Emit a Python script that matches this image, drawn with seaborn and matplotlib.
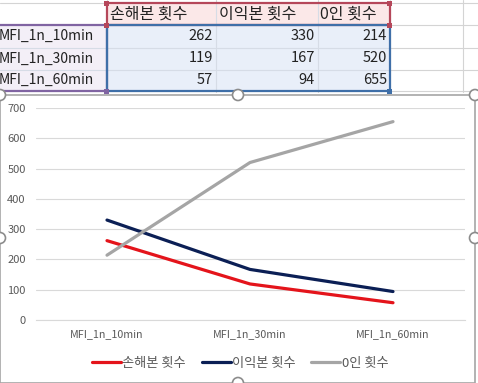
import matplotlib
matplotlib.use("Agg")
import matplotlib.pyplot as plt
import seaborn as sns
import pandas as pd
from matplotlib.patches import Rectangle, Circle
from matplotlib.lines import Line2D

categories = ["MFI_1n_10min", "MFI_1n_30min", "MFI_1n_60min"]
series_names = ["손해본 횟수", "이익본 횟수", "0인 횟수"]
loss_counts = [262, 119, 57]
profit_counts = [330, 167, 94]
zero_counts = [214, 520, 655]
yticks = [0, 100, 200, 300, 400, 500, 600, 700]

colors = ["#E4141B", "#0B1F55", "#A5A5A5"]

sns.set_theme(style="white")
plt.rcParams['font.family'] = ['Noto Sans CJK KR', 'DejaVu Sans']

W, H = 478, 383
fig = plt.figure(figsize=(W / 100, H / 100), dpi=100)

# Background overlay axes in pixel coordinates
bg = fig.add_axes([0, 0, 1, 1])
bg.set_xlim(0, W)
bg.set_ylim(H, 0)
bg.axis("off")

# spreadsheet gridlines
grid_c = "#D4D4D4"
for y in [3, 25, 48, 70, 91]:
    bg.plot([0, W], [y, y], color=grid_c, lw=0.8, zorder=0)
for x in [107, 216, 318, 390, 463]:
    bg.plot([x, x], [0, 92], color=grid_c, lw=0.8, zorder=0)

# cell fills
bg.add_patch(Rectangle((107, 3), 283, 22, facecolor="#FBE8E8", edgecolor="none", zorder=0.5))
bg.add_patch(Rectangle((0, 25), 107, 66, facecolor="#F3EFF7", edgecolor="none", zorder=0.5))
bg.add_patch(Rectangle((107, 25), 283, 66, facecolor="#E9EFF9", edgecolor="none", zorder=0.5))
for x in [216, 318]:
    bg.plot([x, x], [3, 91], color="#D6DCE6", lw=0.8, zorder=0.6)
for y in [48, 70]:
    bg.plot([0, 390], [y, y], color="#D6DCE6", lw=0.8, zorder=0.6)

# range borders
bg.add_patch(Rectangle((107, 3), 283, 22, facecolor="none", edgecolor="#B5475A", lw=1.6, zorder=2))
bg.add_patch(Rectangle((-5, 25), 112, 66, facecolor="none", edgecolor="#8064A2", lw=1.6, zorder=2))
bg.add_patch(Rectangle((107, 25), 283, 66, facecolor="none", edgecolor="#3F6FA8", lw=1.6, zorder=2))
for (x, y, c) in [(107, 3, "#B5475A"), (390, 3, "#B5475A"), (107, 25, "#B5475A"),
                  (390, 25, "#B5475A"), (107, 91, "#8064A2"), (390, 91, "#3F6FA8")]:
    bg.add_patch(Rectangle((x - 2.5, y - 2.5), 5, 5, facecolor=c, edgecolor="none", zorder=3))

# table text
tcol = "#222222"
hdr_x = [110, 219, 320]
for x, name in zip(hdr_x, series_names):
    bg.text(x, 14, name, ha="left", va="center", fontsize=11.5, color=tcol, zorder=4)
row_y = [36, 58.5, 80]
num_x = [213, 315, 387]
table_vals = [loss_counts, profit_counts, zero_counts]
for i, (cat, y) in enumerate(zip(categories, row_y)):
    bg.text(-1, y, cat, ha="left", va="center", fontsize=10, color=tcol, zorder=4)
    for j in range(3):
        bg.text(num_x[j], y, str(table_vals[j][i]), ha="right", va="center",
                fontsize=10.5, color=tcol, zorder=4)

# chart area
bg.add_patch(Rectangle((0, 95), 475, 288, facecolor="white", edgecolor="#A6A6A6", lw=1.2, zorder=5))
for (x, y) in [(0, 95), (238, 95), (475, 95), (0, 238), (475, 238), (238, 383)]:
    bg.add_patch(Circle((x, y), 5.5, facecolor="white", edgecolor="#8C8C8C", lw=1.2, zorder=6))

# plot axes
left, right, top, bottom = 35.5, 464.5, 108, 320
ax = fig.add_axes([left / W, (H - bottom) / H, (right - left) / W, (bottom - top) / H])
ax.set_zorder(10)
ax.patch.set_alpha(0)

df = pd.DataFrame({
    "category": categories * 3,
    "series": [series_names[0]] * 3 + [series_names[1]] * 3 + [series_names[2]] * 3,
    "value": loss_counts + profit_counts + zero_counts,
})
df["x"] = df["category"].map({c: i for i, c in enumerate(categories)})

sns.lineplot(data=df, x="x", y="value", hue="series", hue_order=series_names,
             palette=colors, linewidth=2.3, ax=ax, legend=False, sort=False)

ax.set_xlim(-0.5, 2.5)
ax.set_ylim(0, 700)
ax.set_yticks(yticks)
ax.set_xticks(range(len(categories)))
ax.set_xticklabels(categories)
ax.set_xlabel("")
ax.set_ylabel("")
ax.yaxis.grid(True, color="#D9D9D9", lw=0.8)
ax.set_axisbelow(True)
for s in ["top", "right", "left"]:
    ax.spines[s].set_visible(False)
ax.spines["bottom"].set_color("#D9D9D9")
ax.spines["bottom"].set_linewidth(0.8)
ax.tick_params(axis="y", length=0, pad=7, labelsize=8, labelcolor="#595959")
ax.tick_params(axis="x", length=0, pad=6.5, labelsize=7.7, labelcolor="#595959")

handles = [Line2D([], [], color=c, lw=2.3) for c in colors]
fig.legend(handles, series_names, loc="center", bbox_to_anchor=(240 / W, (H - 363) / H),
           ncol=3, frameon=False, fontsize=9.5, handlelength=2.2, handletextpad=0.1,
           columnspacing=1.2, labelcolor="#595959")

fig.savefig("out.png", dpi=100)
